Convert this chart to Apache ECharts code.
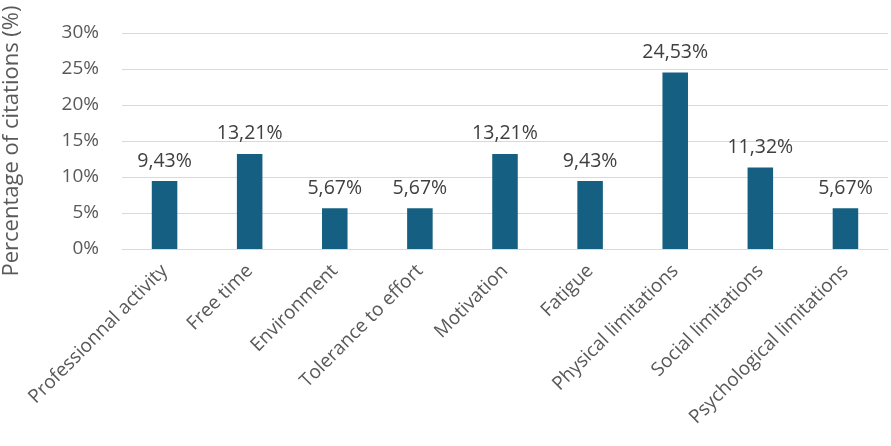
<!DOCTYPE html>
<html><head><meta charset="utf-8">
<script src="https://cdn.jsdelivr.net/npm/echarts@6/dist/echarts.min.js"></script>
<style>html,body{margin:0;padding:0;background:#fff}#c{width:891px;height:446px}</style>
</head><body><div id="c"></div>
<script>
var categories = ["Professionnal activity","Free time","Environment","Tolerance to effort","Motivation","Fatigue","Physical limitations","Social limitations","Psychological limitations"];
var values = [9.43,13.21,5.67,5.67,13.21,9.43,24.53,11.32,5.67];
var yTicks = [0,5,10,15,20,25,30];
var FONT = 'Open Sans, Liberation Sans, sans-serif';
var chart = echarts.init(document.getElementById('c'));
chart.setOption({
  animation:false,
  grid:{left:122,right:3,top:33,bottom:197,containLabel:false,outerBoundsMode:'none'},
  xAxis:{type:'category',data:categories,
    axisLine:{lineStyle:{color:'#d9d9d9',width:1}},axisTick:{show:false},
    axisLabel:{rotate:45,interval:0,color:'#595959',fontSize:19,fontFamily:FONT,margin:19}},
  yAxis:{type:'value',min:yTicks[0],max:yTicks[yTicks.length-1],interval:5,
    name:'Percentage of citations (%)',nameLocation:'middle',nameGap:99,
    nameTextStyle:{color:'#595959',fontSize:22,fontFamily:FONT},
    axisLine:{show:false},axisTick:{show:false},
    splitLine:{lineStyle:{color:'#d9d9d9',width:1}},
    axisLabel:{formatter:function(v){return v+'%';},color:'#595959',fontSize:19,fontFamily:FONT,margin:23}},
  series:[{type:'bar',data:values,barWidth:'30%',
    itemStyle:{color:'#156082'},
    label:{show:true,position:'top',distance:10,color:'#404040',fontSize:19.5,fontFamily:FONT,
      formatter:function(p){return p.value.toFixed(2).replace('.',',')+'%';}}}]
});
</script></body></html>
